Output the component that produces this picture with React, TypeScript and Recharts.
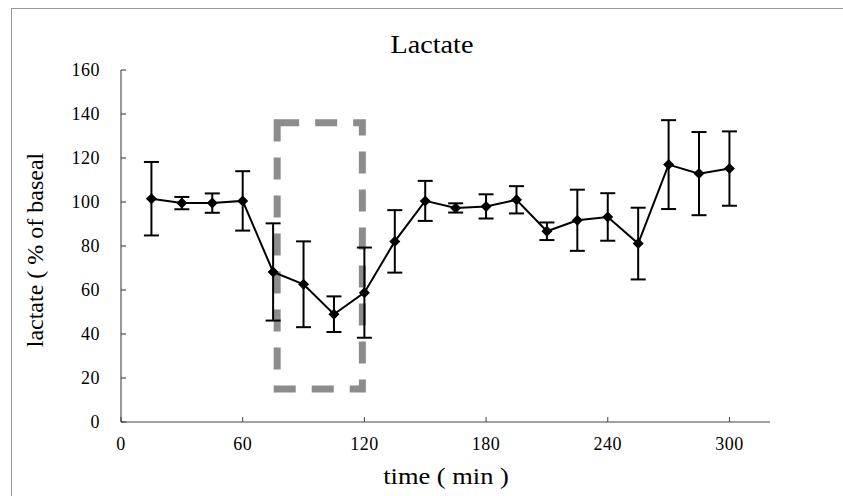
import { ErrorBar, Line, LineChart, ReferenceArea, XAxis, YAxis } from "recharts";

// sampling times (min)
const times = [15, 30, 45, 60, 75, 90, 105, 120, 135, 150, 165, 180, 195, 210, 225, 240, 255, 270, 285, 300];
// lactate, % of baseline
const lactate = [101.5, 99.5, 99.5, 100.5, 68.2, 62.6, 49, 58.8, 82.1, 100.5, 97.3, 98, 101, 86.7, 91.7, 93.2, 81.1, 117, 112.9, 115.2];
// error bar half-length
const errors = [16.7, 2.8, 4.4, 13.5, 22.1, 19.5, 8.1, 20.5, 14.2, 9.1, 2.1, 5.5, 6.2, 4, 13.9, 10.8, 16.3, 20.2, 18.9, 16.9];

const xTicks = [0, 60, 120, 180, 240, 300];
const yTicks = [0, 20, 40, 60, 80, 100, 120, 140, 160];

// treatment window outlined by the dashed box
const windowStart = 77;
const windowEnd = 119;
const windowLow = 15;
const windowHigh = 136;

const data = times.map((t, i) => ({ time: t, value: lactate[i], err: errors[i] }));

const serif = '"Liberation Serif", "Times New Roman", Times, serif';
const tickStyle = { fontSize: 18, fill: "#000", fontFamily: serif, letterSpacing: 0.5 };

function Diamond(props: any) {
  const { cx, cy, index } = props;
  if (cx == null || cy == null) return null;
  const r = 5.5;
  return (
    <polygon
      key={`d-${index}`}
      points={`${cx},${cy - r} ${cx + r},${cy} ${cx},${cy + r} ${cx - r},${cy}`}
      fill="#000"
    />
  );
}

export default function App() {
  return (
    <div style={{ position: "fixed", left: 0, top: 0, width: 843, height: 496, background: "#fff", fontFamily: serif }}>
      <div
        style={{
          position: "absolute",
          left: 11,
          top: 8,
          width: 832,
          height: 488,
          borderLeft: "1px solid #9a9a9a",
          borderTop: "1px solid #9a9a9a",
        }}
      />
      <LineChart
        width={843}
        height={496}
        data={data}
        margin={{ top: 70, right: 73, bottom: 44, left: 61 }}
        style={{ position: "absolute", left: 0, top: 0, fontFamily: serif }}
      >
        <XAxis
          dataKey="time"
          type="number"
          domain={[0, 320]}
          ticks={xTicks}
          allowDataOverflow
          height={30}
          tick={tickStyle}
          tickSize={-5}
          tickMargin={20}
          axisLine={{ stroke: "#444", strokeWidth: 1 }}
          tickLine={{ stroke: "#444" }}
        />
        <YAxis
          domain={[0, 160]}
          ticks={yTicks}
          width={60}
          tick={tickStyle}
          tickSize={-5}
          tickMargin={26}
          axisLine={{ stroke: "#333", strokeWidth: 1 }}
          tickLine={{ stroke: "#333" }}
        />
        <Line
          type="linear"
          dataKey="value"
          stroke="#000"
          strokeWidth={2}
          dot={Diamond}
          activeDot={false}
          isAnimationActive={false}
        >
          <ErrorBar dataKey="err" direction="y" width={7.5} stroke="#000" strokeWidth={2} isAnimationActive={false} />
        </Line>
        <ReferenceArea
          x1={windowStart}
          x2={windowEnd}
          y1={windowLow}
          y2={windowHigh}
          fill="none"
          fillOpacity={0}
          stroke="#8c8c8c"
          strokeWidth={7}
          strokeDasharray="22 16"
        />
      </LineChart>
      <div
        style={{
          position: "absolute",
          left: 432,
          top: 33,
          fontSize: 24.5,
          lineHeight: 1,
          whiteSpace: "nowrap",
          transform: "translateX(-50%) scaleX(1.15)",
        }}
      >
        Lactate
      </div>
      <div
        style={{
          position: "absolute",
          left: 446,
          top: 465,
          fontSize: 23,
          lineHeight: 1,
          whiteSpace: "nowrap",
          transform: "translateX(-50%) scaleX(1.15)",
        }}
      >
        time ( min )
      </div>
      <div
        style={{
          position: "absolute",
          left: 35,
          top: 250,
          fontSize: 24,
          lineHeight: 1,
          whiteSpace: "nowrap",
          transform: "translate(-50%, -50%) rotate(-90deg)",
        }}
      >
        lactate ( % of baseal
      </div>
    </div>
  );
}
